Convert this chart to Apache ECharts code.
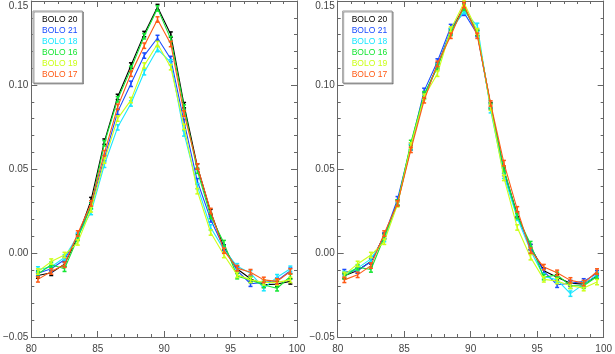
<!DOCTYPE html>
<html>
<head>
<meta charset="utf-8">
<script src="https://cdn.jsdelivr.net/npm/echarts@6/dist/echarts.min.js"></script>
<style>html,body{margin:0;padding:0;background:#fff}#c{width:615px;height:354px}</style>
</head>
<body>
<div id="c"></div>
<script>
const XS = [80.5, 81.5, 82.5, 83.5, 84.5, 85.5, 86.5, 87.5, 88.5, 89.5, 90.5, 91.5, 92.5, 93.5, 94.5, 95.5, 96.5, 97.5, 98.5, 99.5];
const NAMES = ['BOLO 20', 'BOLO 21', 'BOLO 18', 'BOLO 16', 'BOLO 19', 'BOLO 17'];
const COLORS = ['#000000', '#1a4cff', '#19e6ff', '#14e632', '#ccff19', '#ff5a14'];
const ERRS = [0.0016, 0.0016, 0.0016, 0.0016, 0.0016, 0.0016];
const X_TICKS = [80, 85, 90, 95, 100];
const Y_TICKS = [-0.05, 0.00, 0.05, 0.10, 0.15];

// Left panel
const L_BOLO20 = [-0.0134, -0.0118, -0.0066, 0.0095, 0.0315, 0.0663, 0.0929, 0.1116, 0.1303, 0.1464, 0.1300, 0.0880, 0.0515, 0.0244, 0.0033, -0.0095, -0.0153, -0.0189, -0.0185, -0.0169];
const L_BOLO21 = [-0.0120, -0.0094, -0.0040, 0.0102, 0.0280, 0.0565, 0.0840, 0.1007, 0.1175, 0.1280, 0.1155, 0.0780, 0.0427, 0.0200, 0.0030, -0.0105, -0.0183, -0.0175, -0.0165, -0.0105];
const L_BOLO18 = [-0.0098, -0.0083, -0.0026, 0.0102, 0.0244, 0.0525, 0.0748, 0.0890, 0.1076, 0.1214, 0.1135, 0.0712, 0.0398, 0.0152, 0.0020, -0.0079, -0.0120, -0.0209, -0.0144, -0.0094];
const L_BOLO16 = [-0.0125, -0.0070, -0.0094, 0.0090, 0.0280, 0.0653, 0.0915, 0.1096, 0.1290, 0.1456, 0.1273, 0.0866, 0.0490, 0.0220, 0.0059, -0.0138, -0.0160, -0.0190, -0.0210, -0.0140];
const L_BOLO19 = [-0.0110, -0.0051, -0.0012, 0.0063, 0.0260, 0.0550, 0.0800, 0.0910, 0.1116, 0.1244, 0.1106, 0.0751, 0.0368, 0.0122, -0.0012, -0.0130, -0.0160, -0.0175, -0.0175, -0.0160];
const L_BOLO17 = [-0.0157, -0.0110, -0.0070, 0.0116, 0.0295, 0.0594, 0.0870, 0.1067, 0.1234, 0.1390, 0.1244, 0.0830, 0.0515, 0.0250, 0.0014, -0.0090, -0.0114, -0.0160, -0.0169, -0.0110];

// Right panel
const R_BOLO20 = [-0.0135, -0.0104, -0.0050, 0.0102, 0.0300, 0.0630, 0.0935, 0.1115, 0.1320, 0.1465, 0.1310, 0.0880, 0.0490, 0.0230, 0.0035, -0.0105, -0.0145, -0.0180, -0.0185, -0.0135];
const R_BOLO21 = [-0.0114, -0.0104, -0.0051, 0.0102, 0.0320, 0.0640, 0.0965, 0.1140, 0.1345, 0.1430, 0.1303, 0.0870, 0.0476, 0.0220, 0.0035, -0.0110, -0.0189, -0.0180, -0.0169, -0.0120];
const R_BOLO18 = [-0.0125, -0.0090, -0.0035, 0.0083, 0.0295, 0.0630, 0.0930, 0.1110, 0.1320, 0.1440, 0.1352, 0.0850, 0.0460, 0.0210, 0.0015, -0.0138, -0.0160, -0.0242, -0.0185, -0.0130];
const R_BOLO16 = [-0.0140, -0.0085, -0.0098, 0.0095, 0.0300, 0.0655, 0.0945, 0.1105, 0.1310, 0.1460, 0.1310, 0.0875, 0.0500, 0.0220, 0.0053, -0.0144, -0.0130, -0.0195, -0.0195, -0.0140];
const R_BOLO19 = [-0.0130, -0.0065, -0.0012, 0.0067, 0.0290, 0.0640, 0.0930, 0.1067, 0.1330, 0.1490, 0.1320, 0.0865, 0.0447, 0.0152, -0.0025, -0.0157, -0.0167, -0.0195, -0.0209, -0.0173];
const R_BOLO17 = [-0.0160, -0.0130, -0.0075, 0.0116, 0.0295, 0.0614, 0.0909, 0.1126, 0.1293, 0.1476, 0.1293, 0.0890, 0.0535, 0.0260, 0.0014, -0.0084, -0.0118, -0.0163, -0.0179, -0.0110];

const PANELS = [
  [L_BOLO20, L_BOLO21, L_BOLO18, L_BOLO16, L_BOLO19, L_BOLO17],
  [R_BOLO20, R_BOLO21, R_BOLO18, R_BOLO16, R_BOLO19, R_BOLO17]
];

const FONT = 'Liberation Sans';
const AXIS_COLOR = '#666';

function fmtY(v) {
  const s = Math.abs(v).toFixed(2);
  return v < -1e-9 ? '\u2212' + s : s;
}

const grids = [
  { left: 28, top: 1, width: 269, height: 337.5 },
  { left: 337.7, top: 1, width: 269, height: 337.5 }
];

const xAxes = [], yAxes = [];
grids.forEach((g, gi) => {
  ['bottom', 'top'].forEach((pos) => {
    xAxes.push({
      type: 'value', gridIndex: gi, position: pos,
      min: X_TICKS[0], max: X_TICKS[X_TICKS.length - 1], interval: X_TICKS[1] - X_TICKS[0],
      axisLine: { show: true, onZero: false, lineStyle: { color: AXIS_COLOR, width: 1 } },
      axisTick: { show: true, inside: true, length: 6, lineStyle: { color: AXIS_COLOR } },
      minorTick: { show: true, splitNumber: 5, length: 3, lineStyle: { color: AXIS_COLOR } },
      splitLine: { show: false },
      axisLabel: { show: pos === 'bottom', margin: 7, fontFamily: FONT, fontSize: 10, color: '#444', formatter: (v) => String(v) }
    });
  });
  ['left', 'right'].forEach((pos) => {
    yAxes.push({
      type: 'value', gridIndex: gi, position: pos,
      min: Y_TICKS[0], max: Y_TICKS[Y_TICKS.length - 1], interval: 0.05,
      axisLine: { show: true, onZero: false, lineStyle: { color: AXIS_COLOR, width: 1 } },
      axisTick: { show: true, inside: true, length: 6, lineStyle: { color: AXIS_COLOR } },
      minorTick: { show: true, splitNumber: 5, length: 3, lineStyle: { color: AXIS_COLOR } },
      splitLine: { show: false },
      axisLabel: { show: pos === 'left', margin: 3, fontFamily: FONT, fontSize: 10, color: '#444',
        formatter: fmtY, verticalAlignMaxLabel: 'top' }
    });
  });
});

const series = [];
PANELS.forEach((panel, pi) => {
  panel.forEach((vals, si) => {
    const color = COLORS[si];
    series.push({
      type: 'line', name: NAMES[si], xAxisIndex: pi * 2, yAxisIndex: pi * 2,
      data: XS.map((x, i) => [x, vals[i]]),
      symbol: 'none', lineStyle: { color: color, width: 1.1 }, itemStyle: { color: color },
      z: 2 + si, animation: false
    });
    series.push({
      type: 'custom', name: NAMES[si] + ' err', xAxisIndex: pi * 2, yAxisIndex: pi * 2,
      data: XS.map((x, i) => [x, vals[i], ERRS[si]]),
      z: 2 + si, animation: false,
      renderItem: function (params, api) {
        const x = api.value(0), y = api.value(1), e = api.value(2);
        const t = api.coord([x, y + e]), b = api.coord([x, y - e]);
        const w = 2;
        const st = { stroke: color, lineWidth: 1.5 };
        return { type: 'group', children: [
          { type: 'line', shape: { x1: t[0], y1: t[1], x2: b[0], y2: b[1] }, style: st },
          { type: 'line', shape: { x1: t[0] - w, y1: t[1], x2: t[0] + w, y2: t[1] }, style: st },
          { type: 'line', shape: { x1: b[0] - w, y1: b[1], x2: b[0] + w, y2: b[1] }, style: st }
        ] };
      }
    });
  });
});

const legends = [33, 342.7].map((lx) => ({
  orient: 'vertical', left: lx, top: 11,
  itemWidth: 0, itemHeight: 0, itemGap: 0, icon: 'rect',
  padding: [3, 5, 3, 4],
  borderColor: '#999', borderWidth: 1, backgroundColor: '#fff',
  shadowColor: 'rgba(0,0,0,0.35)', shadowOffsetX: 1, shadowOffsetY: 1, shadowBlur: 0,
  selectedMode: false,
  textStyle: { fontFamily: FONT, fontSize: 8.5, lineHeight: 11 },
  data: NAMES.map((n, i) => ({ name: n, textStyle: { color: COLORS[i] } }))
}));

const chart = echarts.init(document.getElementById('c'), null, { renderer: 'canvas' });
chart.setOption({
  animation: false,
  backgroundColor: '#fff',
  grid: grids,
  xAxis: xAxes,
  yAxis: yAxes,
  legend: legends,
  series: series
});
</script>
</body>
</html>
